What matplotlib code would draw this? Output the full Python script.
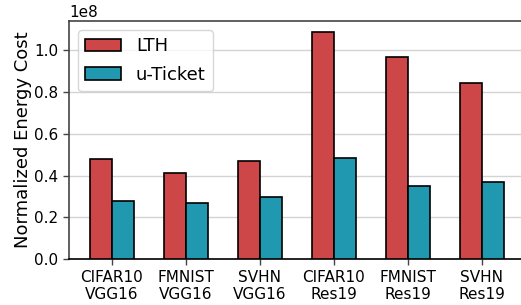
import numpy as np
import matplotlib
matplotlib.use("Agg")
import matplotlib.pyplot as plt

categories = ["CIFAR10\nVGG16", "FMNIST\nVGG16", "SVHN\nVGG16",
              "CIFAR10\nRes19", "FMNIST\nRes19", "SVHN\nRes19"]
lth = [0.478e8, 0.412e8, 0.469e8, 1.086e8, 0.968e8, 0.844e8]
uticket = [0.277e8, 0.268e8, 0.297e8, 0.483e8, 0.351e8, 0.368e8]
series_names = ["LTH", "u-Ticket"]

red = "#CD4648"
teal = "#2098B0"

fig = plt.figure(figsize=(5.21, 3.05), dpi=100)
ax = fig.add_axes([0.1324, 0.1505, 0.875, 0.781])

x = np.arange(len(categories))
w = 0.3
ax.bar(x - w / 2, lth, w, color=red, edgecolor="black", linewidth=1.2,
       label=series_names[0], zorder=3)
ax.bar(x + w / 2, uticket, w, color=teal, edgecolor="black", linewidth=1.2,
       label=series_names[1], zorder=3)

ax.set_xticks(x)
ax.set_xticklabels(categories, fontsize=11)
ax.tick_params(axis="y", labelsize=11)
ax.yaxis.get_offset_text().set_fontsize(11)
ax.set_ylabel("Normalized Energy Cost", fontsize=13, labelpad=2)
ax.set_yticks(np.arange(0, 1.01e8, 0.2e8))
ax.grid(axis="y", color="#d3d3d3", linewidth=1.0, zorder=0)
ax.set_axisbelow(True)
for s in ["left", "top", "right"]:
    ax.spines[s].set_color("#444444")
    ax.spines[s].set_linewidth(1.2)
ax.spines["bottom"].set_color("black")
ax.spines["bottom"].set_linewidth(1.2)
ax.tick_params(colors="#444444", labelcolor="black", length=4, width=1.0)

leg = ax.legend(loc="upper left", fontsize=13, frameon=True, fancybox=True,
                edgecolor="#cccccc", handlelength=2.0, borderaxespad=0.5,
                labelspacing=0.6)

fig.savefig("out.png", dpi=100)
